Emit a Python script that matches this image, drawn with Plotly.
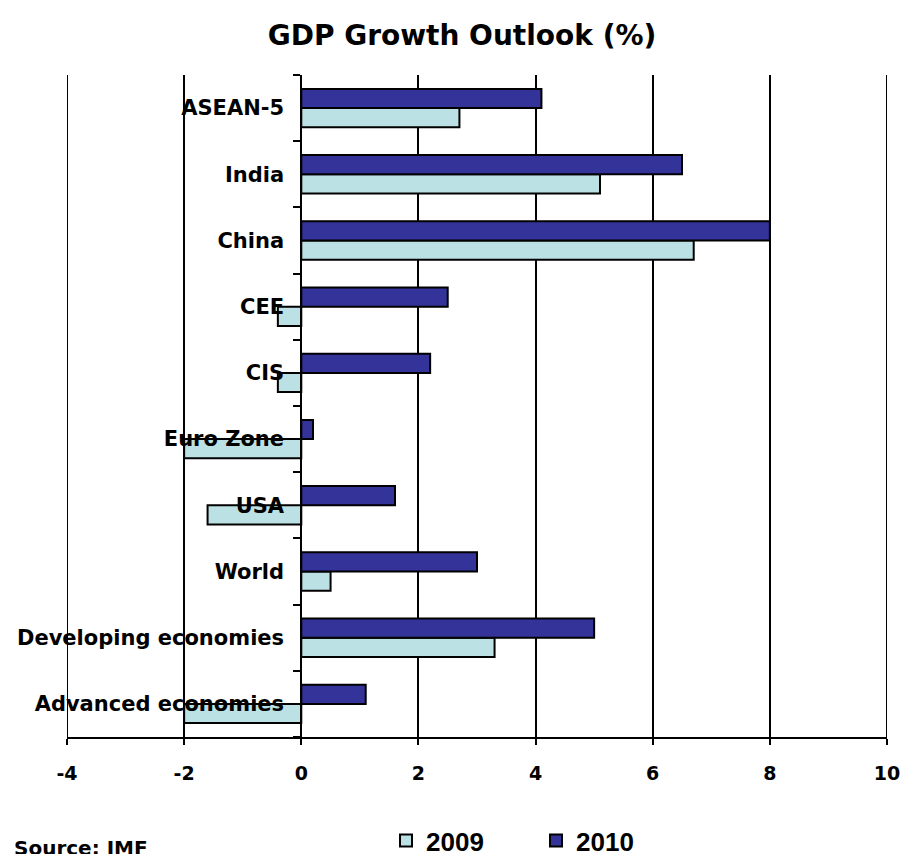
import plotly.graph_objects as go

categories = ["ASEAN-5", "India", "China", "CEE", "CIS", "Euro Zone", "USA",
              "World", "Developing economies", "Advanced economies"]
growth_2009 = [2.7, 5.1, 6.7, -0.4, -0.4, -2.0, -1.6, 0.5, 3.3, -2.0]
growth_2010 = [4.1, 6.5, 8.0, 2.5, 2.2, 0.2, 1.6, 3.0, 5.0, 1.1]
x_ticks = [-4, -2, 0, 2, 4, 6, 8, 10]
x_tick_labels = ["-4", "-2", "0", "2", "4", "6", "8", "10"]

FONT = "DejaVu Sans, sans-serif"
ARIAL = "Liberation Sans, Arial, sans-serif"
W, H = 903, 854
ML, MR, MT, MB = 67, 16, 75, 117
PW, PH = W - ML - MR, H - MT - MB

cats = categories[::-1]
fig = go.Figure()
fig.add_trace(go.Bar(y=cats, x=growth_2009[::-1], orientation="h", name="2009",
                     marker=dict(color="#bce1e4", line=dict(color="black", width=2))))
fig.add_trace(go.Bar(y=cats, x=growth_2010[::-1], orientation="h", name="2010",
                     marker=dict(color="#333399", line=dict(color="black", width=2))))

fig.update_layout(
    width=W, height=H,
    margin=dict(l=ML, r=MR, t=MT, b=MB, autoexpand=False),
    paper_bgcolor="white", plot_bgcolor="white",
    font=dict(family=FONT, color="black"),
    barmode="group", bargap=0.42, bargroupgap=0,
    title=dict(text="GDP Growth Outlook (%)", x=462 / W, xanchor="center",
               y=1 - 35 / H, yanchor="middle", yref="container",
               font=dict(size=28, weight="bold", family=FONT)),
    xaxis=dict(range=[x_ticks[0], x_ticks[-1]], tickvals=x_ticks, ticktext=x_tick_labels,
               showgrid=True, gridcolor="black", gridwidth=2, zeroline=False,
               showline=True, linecolor="black", linewidth=2, ticks="outside",
               ticklen=6, tickwidth=2, tickcolor="black", ticklabelstandoff=12,
               tickfont=dict(size=19, weight="bold", family=FONT)),
    yaxis=dict(type="category", anchor="free",
               position=(0 - x_ticks[0]) / (x_ticks[-1] - x_ticks[0]),
               showline=True, linecolor="black", linewidth=2, ticks="outside",
               ticklen=7, tickwidth=2, tickcolor="black", tickson="boundaries",
               showgrid=False, ticklabelstandoff=12,
               tickfont=dict(size=21, weight="bold", family=FONT)),
    legend=dict(orientation="h", x=(386 - ML) / PW, xanchor="left",
                y=(MT + PH - 840.5) / PH, yanchor="middle",
                font=dict(size=26, weight="bold", family=ARIAL),
                entrywidth=105, entrywidthmode="pixels", bgcolor="rgba(0,0,0,0)"),
    showlegend=True,
)
for xv in (x_ticks[0], x_ticks[-1]):
    fig.add_vline(x=xv, line=dict(color="black", width=2), layer="above")
fig.add_annotation(text="Source: IMF", xref="paper", yref="paper", x=(12 - ML) / PW,
                   y=(MT + PH - 848) / PH, xanchor="left", yanchor="middle", showarrow=False,
                   font=dict(size=20, weight="bold", family=FONT))

fig.write_html(
    "out.html",
    config={"displayModeBar": False},
    post_script="document.body.style.margin='0';document.body.style.overflow='hidden';",
)
